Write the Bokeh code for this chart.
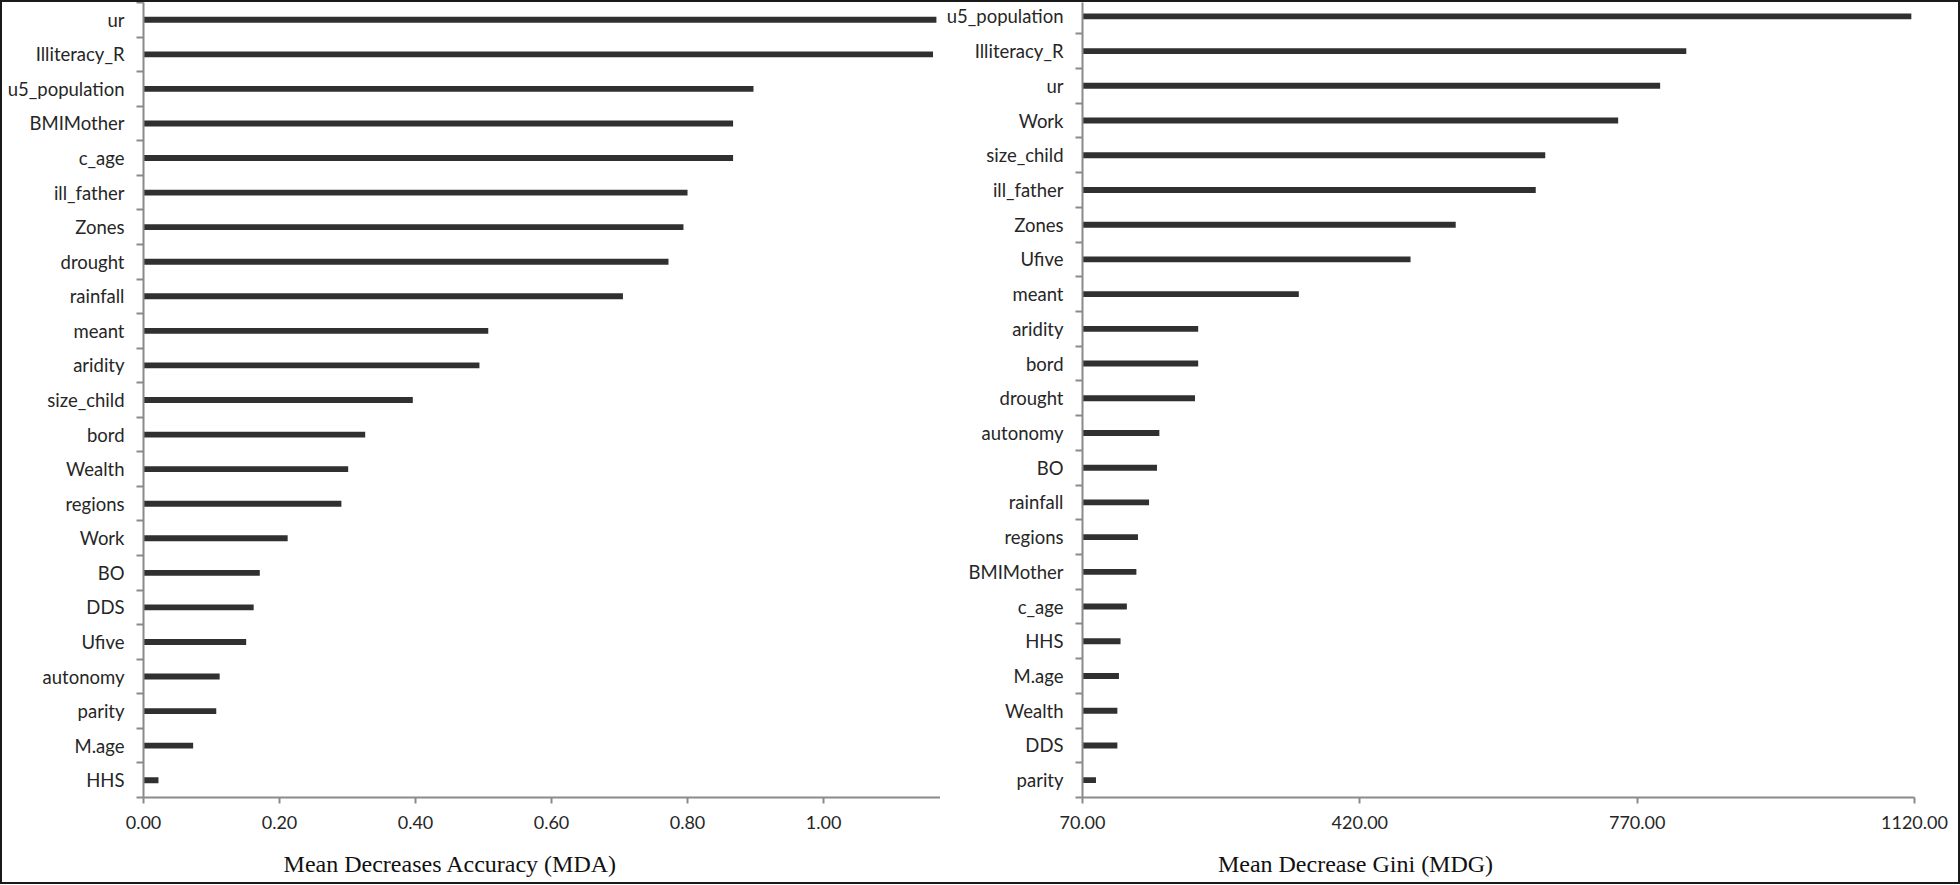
from bokeh.plotting import figure
from bokeh.models import Range1d, FixedTicker, NumeralTickFormatter
from bokeh.core.properties import value
from bokeh.layouts import row, column
from bokeh.embed import file_html
from bokeh.resources import INLINE

# ---- data ----
mda_vars = ["ur", "Illiteracy_R", "u5_population", "BMIMother", "c_age", "ill_father",
            "Zones", "drought", "rainfall", "meant", "aridity", "size_child", "bord",
            "Wealth", "regions", "Work", "BO", "DDS", "Ufive", "autonomy", "parity",
            "M.age", "HHS"]
mda_vals = [1.166, 1.161, 0.897, 0.867, 0.867, 0.800, 0.794, 0.772, 0.705, 0.507,
            0.494, 0.396, 0.326, 0.301, 0.291, 0.212, 0.171, 0.162, 0.151, 0.112,
            0.107, 0.073, 0.022]
mda_ticks = [0.0, 0.2, 0.4, 0.6, 0.8, 1.0]

mdg_vars = ["u5_population", "Illiteracy_R", "ur", "Work", "size_child", "ill_father",
            "Zones", "Ufive", "meant", "aridity", "bord", "drought", "autonomy", "BO",
            "rainfall", "regions", "BMIMother", "c_age", "HHS", "M.age", "Wealth",
            "DDS", "parity"]
mdg_vals = [1116, 832, 799, 746, 654, 642, 541, 484, 343, 216, 216, 212, 167, 164,
            154, 140, 138, 126, 118, 116, 114, 114, 87]
mdg_ticks = [70, 420, 770, 1120]

axis_titles = ["Mean Decreases Accuracy (MDA)", "Mean Decrease Gini (MDG)"]

AXIS_COL = "#8a8a8a"
BAR_COL = "#303030"
LBL_FONT = "Lato"


def make_panel(names, vals, ticks, xr, yr, base, width, height, bl, br, bt, bb):
    n = len(names)
    p = figure(width=width, height=height, output_backend="svg", toolbar_location=None,
               x_range=Range1d(*xr), y_range=Range1d(*yr),
               min_border_left=bl, min_border_right=br, min_border_top=bt,
               min_border_bottom=bb)
    p.outline_line_color = None
    p.xgrid.grid_line_color = None
    p.ygrid.grid_line_color = None
    p.background_fill_color = "white"
    p.border_fill_color = "white"

    idx = list(range(n))
    p.hbar(y=idx, left=base, right=vals, height=0.17, fill_color=BAR_COL,
           line_color=None)

    # y axis: labels at category centres, ticks at category boundaries
    ya = p.yaxis[0]
    ya.ticker = FixedTicker(ticks=idx, minor_ticks=[i - 0.5 for i in range(n + 1)])
    ya.major_label_overrides = {i: nm for i, nm in enumerate(names)}
    ya.major_tick_line_color = None
    ya.major_tick_out = 0
    ya.major_tick_in = 0
    ya.minor_tick_out = 7
    ya.minor_tick_in = 0
    ya.minor_tick_line_color = AXIS_COL
    ya.minor_tick_line_width = 2
    ya.axis_line_color = AXIS_COL
    ya.axis_line_width = 2
    ya.major_label_standoff = 12
    ya.major_label_text_font = LBL_FONT
    ya.major_label_text_font_size = "18.5px"
    ya.major_label_text_color = "#262626"

    xa = p.xaxis[0]
    xa.ticker = FixedTicker(ticks=ticks, minor_ticks=[])
    xa.formatter = NumeralTickFormatter(format="0.00")
    xa.major_tick_out = 6
    xa.major_tick_in = 0
    xa.major_tick_line_color = AXIS_COL
    xa.major_tick_line_width = 2
    xa.minor_tick_line_color = None
    xa.axis_line_color = AXIS_COL
    xa.axis_line_width = 2
    xa.major_label_standoff = 12
    xa.major_label_text_font = LBL_FONT
    xa.major_label_text_font_size = "18px"
    xa.major_label_text_color = "#262626"
    return p


H = 848
p1 = make_panel(mda_vars, mda_vals, mda_ticks, (0, 1.172), (22.5, -0.5), 0,
                938, H, 141, 0, 0, 53)
p2 = make_panel(mdg_vars, mdg_vals, mdg_ticks, (70, 1120), (22.5, -0.4), 70,
                1018, H, 142, 44, 0, 43)

# strip holding the two axis titles (pixel-like coordinates)
strip = figure(width=1956, height=32, output_backend="svg", toolbar_location=None,
               x_range=Range1d(0, 1956), y_range=Range1d(32, 0),
               x_axis_type=None, y_axis_type=None,
               min_border_left=0, min_border_right=0, min_border_top=0,
               min_border_bottom=0)
strip.outline_line_color = None
strip.xgrid.grid_line_color = None
strip.ygrid.grid_line_color = None
strip.text(x=[448, 1353], y=[13, 13], text=axis_titles, text_align="center",
           text_baseline="middle", text_font=value("Liberation Serif"),
           text_font_size="24px", text_color="#111111")

layout = column(row(p1, p2), strip, styles={"border": "2px solid #1a1a1a"})

open("out.html", "w").write(file_html(layout, INLINE))
